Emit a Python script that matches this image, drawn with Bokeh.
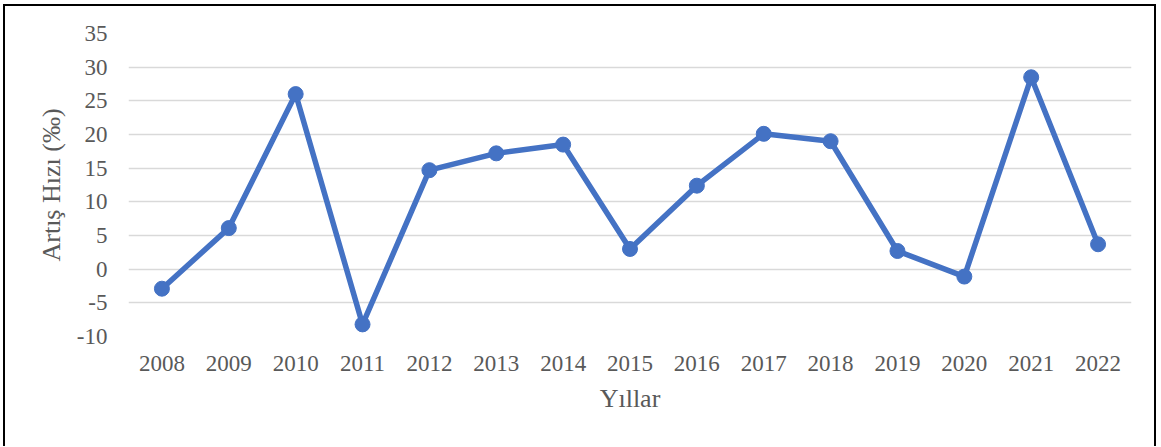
from bokeh.plotting import figure
from bokeh.models import Range1d, FixedTicker
from bokeh.embed import file_html
from bokeh.resources import INLINE

years = ["2008", "2009", "2010", "2011", "2012", "2013", "2014", "2015",
         "2016", "2017", "2018", "2019", "2020", "2021", "2022"]
rates = [-2.9, 6.1, 26.0, -8.2, 14.7, 17.2, 18.5, 3.0, 12.4, 20.1, 19.0, 2.7, -1.1, 28.5, 3.7]
y_ticks = [-10, -5, 0, 5, 10, 15, 20, 25, 30, 35]

FONT = "Liberation Serif"
GREY = "#595959"

p = figure(x_range=years, y_range=Range1d(-10, 35), width=1153, height=442,
           output_backend="svg", toolbar_location=None,
           min_border_left=123, min_border_right=27, min_border_top=27, min_border_bottom=112)
p.styles = {"border": "2px solid black", "border-bottom": "none",
            "margin-left": "3px", "margin-top": "4px"}

p.line(years, rates, line_color="#4472C4", line_width=5.5)
p.scatter(years, rates, size=15, fill_color="#4472C4", line_color="#4472C4")

p.outline_line_color = None

p.xgrid.grid_line_color = None
p.ygrid.grid_line_color = "#d9d9d9"
p.ygrid.grid_line_width = 1.5
p.yaxis.ticker = FixedTicker(ticks=y_ticks)
p.yaxis.major_label_overrides = {t: str(t) for t in y_ticks}

for ax in (p.xaxis, p.yaxis):
    ax.axis_line_color = None
    ax.major_tick_line_color = None
    ax.minor_tick_line_color = None
    ax.major_label_text_font = FONT
    ax.major_label_text_font_size = "23px"
    ax.major_label_text_color = GREY
    ax.axis_label_text_font = FONT
    ax.axis_label_text_font_size = "26px"
    ax.axis_label_text_font_style = "normal"
    ax.axis_label_text_color = GREY

p.xaxis.axis_label = "Yıllar"
p.yaxis.axis_label = "Artış Hızı (‰)"
p.xaxis.major_label_standoff = 13
p.yaxis.major_label_standoff = 15
p.xaxis.axis_label_standoff = 10
p.yaxis.axis_label_standoff = 8

open("out.html", "w").write(file_html(p, INLINE))
